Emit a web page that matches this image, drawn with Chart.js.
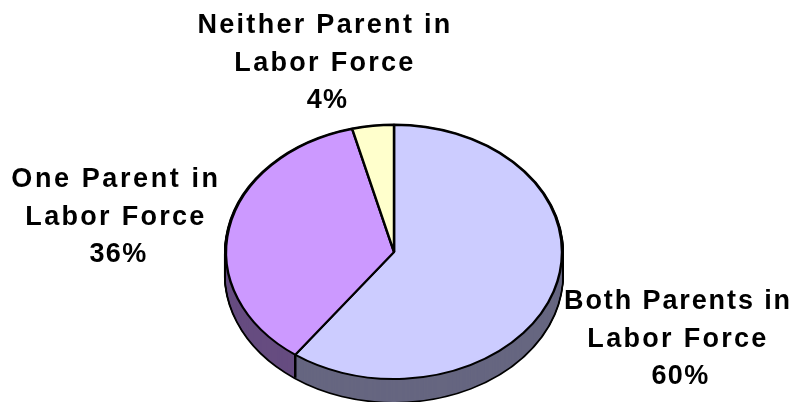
<!DOCTYPE html>
<html>
<head>
<meta charset="utf-8">
<style>html,body{margin:0;padding:0;background:#fff}canvas{display:block}</style>
<script src="https://cdn.jsdelivr.net/npm/chart.js@4"></script>
</head>
<body>
<canvas id="c" width="798" height="402"></canvas>
<script>
const categories = [["Both Parents in","Labor Force"],["One Parent in","Labor Force"],["Neither Parent in","Labor Force"]];
const shares = [60, 36, 4];
const faceColors = ["#CCCCFF","#CC99FF","#FFFFCC"];
const sideColors = ["#666680","#664C80","#808066"];

const PIE = {cx:394, cy:252, rx:168, ry:127, depth:23};
const LABELS = [{x:678,y:309,first:1.9},{x:116,y:187,first:2.6},{x:325,y:33,first:2.3}];
const LINE = 37.5;

function place(ctx, arc, dy){
  const r = arc.outerRadius;
  ctx.translate(PIE.cx, PIE.cy + dy);
  ctx.scale(PIE.rx / r, PIE.ry / r);
  ctx.translate(-arc.x, -arc.y);
}
function drawWith(ctx, arc, over){
  const saved = arc.options;
  arc.options = Object.assign({}, saved, over);
  arc.draw(ctx);
  arc.options = saved;
}
const pie3d = {
  id:'pie3d',
  beforeDatasetsDraw(chart){
    const ctx = chart.ctx, arcs = chart.getDatasetMeta(0).data;
    for(let d = PIE.depth; d >= 0; d--){
      ctx.save(); place(ctx, arcs[0], d);
      arcs.forEach(a => drawWith(ctx, a, {backgroundColor:'#000', borderColor:'#000', borderWidth:4}));
      ctx.restore();
    }
    for(let d = PIE.depth; d >= 1; d--){
      ctx.save(); place(ctx, arcs[0], d);
      arcs.forEach((a,i) => drawWith(ctx, a, {backgroundColor:sideColors[i], borderWidth:0}));
      ctx.restore();
    }
    ctx.save();
    ctx.strokeStyle = '#000'; ctx.lineWidth = 2.5;
    arcs.forEach(a => {
      const s = Math.sin(a.endAngle), c = Math.cos(a.endAngle);
      if(s > 0.05){
        const x = PIE.cx + PIE.rx * c, y = PIE.cy + PIE.ry * s;
        ctx.beginPath(); ctx.moveTo(x, y); ctx.lineTo(x, y + PIE.depth); ctx.stroke();
      }
    });
    ctx.restore();
  },
  beforeDatasetDraw(chart){
    const ctx = chart.ctx;
    ctx.save();
    place(ctx, chart.getDatasetMeta(0).data[0], 0);
  },
  afterDatasetDraw(chart){ chart.ctx.restore(); },
  afterDraw(chart){
    const ctx = chart.ctx;
    ctx.save();
    ctx.fillStyle = '#000';
    ctx.textAlign = 'center';
    ctx.textBaseline = 'alphabetic';
    ctx.font = 'bold 27px "Liberation Sans", Arial, sans-serif';
    categories.forEach((lines,i) => {
      const p = LABELS[i];
      lines.forEach((t,k) => {
        ctx.letterSpacing = (k === 0 ? p.first : 2.3) + 'px';
        ctx.fillText(t, p.x, p.y + k * LINE);
      });
      ctx.letterSpacing = '1.3px';
      ctx.fillText(shares[i] + '%', p.x + 2.5, p.y + lines.length * LINE);
    });
    ctx.restore();
  }
};
new Chart(document.getElementById('c'), {
  type:'pie',
  data:{
    labels: categories.map(l => l.join(' ')),
    datasets:[{data:shares, backgroundColor:faceColors, borderColor:'#000', borderWidth:2.5, clip:false}]
  },
  options:{
    responsive:false, animation:false,
    layout:{padding:30},
    plugins:{legend:{display:false}, tooltip:{enabled:false}}
  },
  plugins:[pie3d]
});
</script>
</body>
</html>
